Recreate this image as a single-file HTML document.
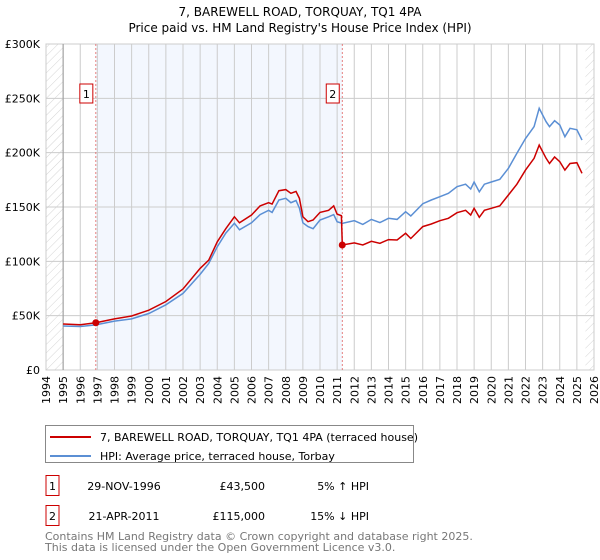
<!DOCTYPE html>
<html><head><meta charset="utf-8">
<style>
body{margin:0;background:#fff;font-family:"DejaVu Sans","Liberation Sans",sans-serif;}
#wrap{position:relative;width:600px;height:560px;overflow:hidden;}
svg text{font-family:"DejaVu Sans","Liberation Sans",sans-serif;}
</style></head><body>
<div id="wrap">
<svg id="chart" width="600" height="560" xmlns="http://www.w3.org/2000/svg">
<defs>
<pattern id="hatch" width="6" height="6" patternUnits="userSpaceOnUse" patternTransform="rotate(45)">
<line x1="0" y1="0" x2="0" y2="6" stroke="#d4d4d4" stroke-width="1"/>
</pattern>
</defs>
<text x="300" y="16" text-anchor="middle" font-size="12" fill="#000">7, BAREWELL ROAD, TORQUAY, TQ1 4PA</text>
<text x="300" y="32" text-anchor="middle" font-size="12" fill="#000">Price paid vs. HM Land Registry's House Price Index (HPI)</text>
<g id="plot"></g>
<g>
<rect x="45.5" y="425.5" width="368" height="37" fill="#fff" stroke="#888"/>
<line x1="50" y1="437" x2="91" y2="437" stroke="#cc0000" stroke-width="2"/>
<text x="100" y="441" font-size="11">7, BAREWELL ROAD, TORQUAY, TQ1 4PA (terraced house)</text>
<line x1="50" y1="456" x2="91" y2="456" stroke="#5b8fd4" stroke-width="2"/>
<text x="100" y="460" font-size="11">HPI: Average price, terraced house, Torbay</text>
</g>
<g>
<rect x="46" y="475.5" width="13" height="20" fill="#fff" stroke="#cc0000"/>
<text x="52.5" y="490" text-anchor="middle" font-size="11">1</text>
<text x="124" y="490" text-anchor="middle" font-size="11">29-NOV-1996</text>
<text x="265" y="490" text-anchor="end" font-size="11">£43,500</text>
<text x="369" y="490" text-anchor="end" font-size="11">5% ↑ HPI</text>
<rect x="46" y="505.5" width="13" height="20" fill="#fff" stroke="#cc0000"/>
<text x="52.5" y="520" text-anchor="middle" font-size="11">2</text>
<text x="124" y="520" text-anchor="middle" font-size="11">21-APR-2011</text>
<text x="265" y="520" text-anchor="end" font-size="11">£115,000</text>
<text x="369" y="520" text-anchor="end" font-size="11">15% ↓ HPI</text>
</g>
<text x="45" y="540" font-size="11" fill="#777">Contains HM Land Registry data © Crown copyright and database right 2025.</text>
<text x="45" y="551" font-size="11" fill="#777">This data is licensed under the Open Government Licence v3.0.</text>
</svg>
</div>
<script>
const yTicks=[0,50000,100000,150000,200000,250000,300000];
const yTickLabels=["£0","£50K","£100K","£150K","£200K","£250K","£300K"];
const xYears=[1994,1995,1996,1997,1998,1999,2000,2001,2002,2003,2004,2005,2006,2007,2008,2009,2010,2011,2012,2013,2014,2015,2016,2017,2018,2019,2020,2021,2022,2023,2024,2025,2026];
const hpiDates=[1995.0,1996.0,1996.9,1998.0,1999.0,2000.0,2001.0,2002.0,2003.0,2003.5,2004.0,2004.5,2005.0,2005.3,2006.0,2006.5,2007.0,2007.2,2007.6,2008.0,2008.3,2008.6,2008.8,2009.0,2009.3,2009.6,2010.0,2010.5,2010.8,2011.0,2011.3,2012.0,2012.5,2013.0,2013.5,2014.0,2014.5,2015.0,2015.3,2016.0,2016.5,2017.0,2017.5,2018.0,2018.5,2018.8,2019.0,2019.3,2019.6,2020.0,2020.5,2021.0,2021.5,2022.0,2022.5,2022.8,2023.2,2023.4,2023.7,2024.0,2024.3,2024.6,2025.0,2025.3];
const hpiValues=[40500,40000,41500,45000,47000,52000,60000,70500,88000,98000,113500,126000,135000,129000,135500,143000,147000,145000,156400,158000,154000,156000,149000,135500,132000,130000,138000,141000,143000,136500,135000,137400,134000,138600,135600,139600,138600,145700,141700,153000,156400,159500,162600,168700,171000,166600,173000,164000,171000,173000,175500,185600,199400,213000,224000,240800,228500,224000,229400,225500,214700,222400,221000,211600];
const propDates=[1995.0,1996.0,1996.91,1998.0,1999.0,2000.0,2001.0,2002.0,2003.0,2003.5,2004.0,2004.5,2005.0,2005.3,2006.0,2006.5,2007.0,2007.2,2007.6,2008.0,2008.3,2008.6,2008.8,2009.0,2009.3,2009.6,2010.0,2010.5,2010.8,2011.0,2011.25,2011.3,2012.0,2012.5,2013.0,2013.5,2014.0,2014.5,2015.0,2015.3,2016.0,2016.5,2017.0,2017.5,2018.0,2018.5,2018.8,2019.0,2019.3,2019.6,2020.0,2020.5,2021.0,2021.5,2022.0,2022.5,2022.8,2023.2,2023.4,2023.7,2024.0,2024.3,2024.6,2025.0,2025.3];
const propValues=[42300,41700,43500,47000,49700,55000,63000,74500,93500,101000,118000,130000,141000,135500,142600,151000,154000,152700,165000,166000,162600,164400,158000,141000,136500,138000,145000,147000,151000,143500,142000,115000,117000,115000,118400,116600,120000,119600,125800,121000,132000,134400,137400,139600,144800,147000,142600,148800,140500,147000,148800,151000,161000,171000,184000,194800,207000,194800,190000,196000,191700,184000,190000,190800,181000];
const saleDates=[1996.91,2011.3];
const salePrices=[43500,115000];
const saleLabels=["1","2"];

const NS="http://www.w3.org/2000/svg";
const X0=46,X1=594,Y0=370,Y1=44;
function xs(t){return X0+(t-1994)/(2026-1994)*(X1-X0);}
function ys(v){return Y0-v/300000*(Y0-Y1);}
const g=document.getElementById('plot');
function mk(tag,attrs,parent){const e=document.createElementNS(NS,tag);for(const k in attrs)e.setAttribute(k,attrs[k]);(parent||g).appendChild(e);return e;}

let sh=mk('rect',{x:xs(saleDates[0]),y:Y1,width:xs(saleDates[1])-xs(saleDates[0]),height:Y0-Y1,fill:'#f3f7fe'});


let h1=mk('rect',{x:X0,y:Y1,width:xs(1995)-X0,height:Y0-Y1,fill:'url(#hatch)'});


let h2=mk('rect',{x:xs(2025.5),y:Y1,width:X1-xs(2025.5),height:Y0-Y1,fill:'url(#hatch)'});


xYears.forEach(yr=>{
  let l=mk('line',{x1:xs(yr),x2:xs(yr),y1:Y1,y2:Y0,stroke:'#ccc','stroke-width':1});
  
  
  let t=mk('text',{x:0,y:0,'font-size':11,'text-anchor':'end',transform:`translate(${xs(yr)+4},${Y0+6}) rotate(-90)`});
  t.textContent=yr;
  
  
});
yTicks.forEach((v,i)=>{
  let l=mk('line',{x1:X0,x2:X1,y1:ys(v),y2:ys(v),stroke:'#ccc','stroke-width':1});
  
  
  let t=mk('text',{x:X0-6,y:ys(v)+4,'font-size':11,'text-anchor':'end'});
  t.textContent=yTickLabels[i];
  
  
});
let fr=mk('rect',{x:X0,y:Y1,width:X1-X0,height:Y0-Y1,fill:'none',stroke:'#ccc'});


let ax=mk('line',{x1:xs(1995),x2:xs(1995),y1:Y1,y2:Y0,stroke:'#999'});


saleDates.forEach(d=>{
  let l=mk('line',{x1:xs(d),x2:xs(d),y1:Y1,y2:Y0,stroke:'#e06060','stroke-width':0.8,'stroke-dasharray':'2,2'});
  
  
});
function pathFrom(ds,vs){return ds.map((d,i)=>(i?'L':'M')+xs(d).toFixed(1)+','+ys(vs[i]).toFixed(1)).join(' ');}
let hp=mk('path',{d:pathFrom(hpiDates,hpiValues),fill:'none',stroke:'#5b8fd4','stroke-width':1.5});


let pp=mk('path',{d:pathFrom(propDates,propValues),fill:'none',stroke:'#cc0000','stroke-width':1.5});


saleDates.forEach((d,i)=>{
  let c=mk('circle',{cx:xs(d),cy:ys(salePrices[i]),r:3.5,fill:'#cc0000'});
  
  
  let bx=xs(d)-3-13;
  let r=mk('rect',{x:bx,y:84,width:13,height:19,fill:'#fff',stroke:'#cc0000'});
  
  
  let t=mk('text',{x:bx+6.5,y:98,'font-size':11,'text-anchor':'middle'});
  t.textContent=saleLabels[i];
  
  
});
</script>
</body></html>
